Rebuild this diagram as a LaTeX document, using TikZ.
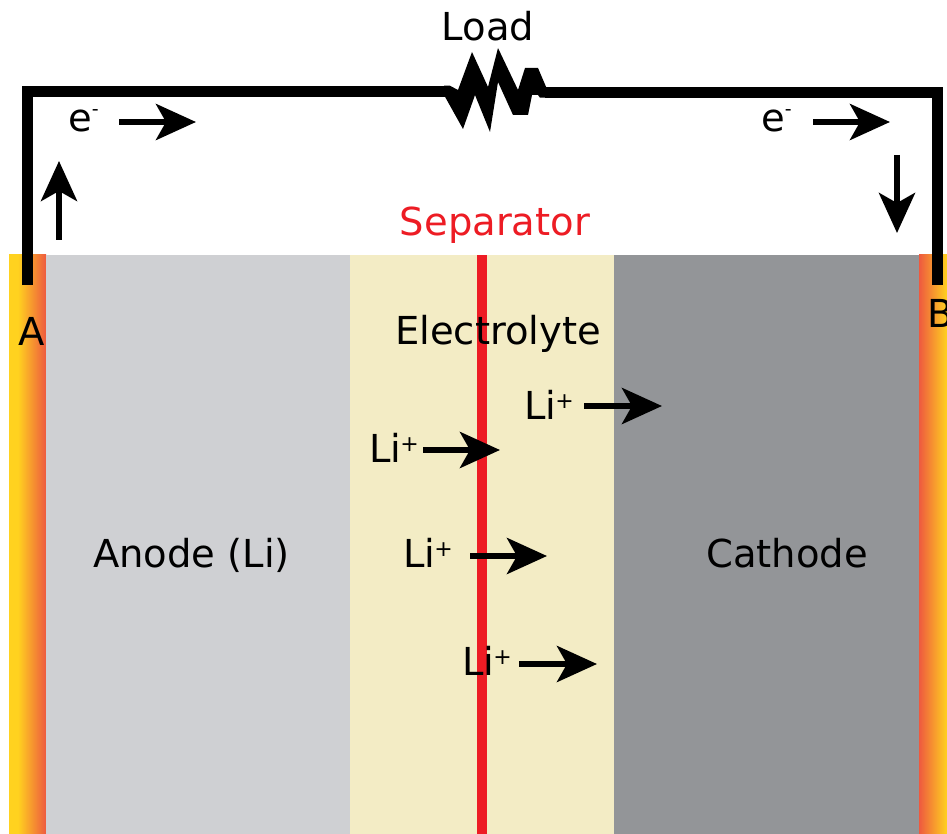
\documentclass[tikz,border=0pt]{standalone}
\usepackage{fontspec}
\setmainfont{DejaVu Sans}
\usetikzlibrary{arrows.meta}
\definecolor{anodec}{HTML}{CFD0D3}
\definecolor{electc}{HTML}{F3ECC5}
\definecolor{cathc}{HTML}{939598}
\definecolor{sepc}{HTML}{ED1C24}
\definecolor{termy}{HTML}{FFD21F}
\definecolor{termr}{HTML}{EE5A3F}
\pgfdeclarehorizontalshading{terml}{100bp}{color(0bp)=(termy); color(37bp)=(termy); color(75bp)=(termr); color(100bp)=(termr)}
\pgfdeclarehorizontalshading{termrt}{100bp}{color(0bp)=(termr); color(25bp)=(termr); color(63bp)=(termy); color(100bp)=(termy)}
\tikzset{
  lbl/.style={font=\fontsize{38.5}{41}\selectfont,text=black,inner sep=0pt,anchor=base},
  flow/.style={line width=6pt,-{Stealth[length=40pt,width=36pt,inset=10pt]},shorten >=-1pt},
  wire/.style={line width=11pt,line cap=butt,line join=miter}
}
\newcommand{\spe}[1]{\raisebox{0.42em}{\fontsize{19}{19}\selectfont #1}}
\newcommand{\spl}[1]{\kern-1pt\raisebox{0.28em}{\fontsize{22}{22}\selectfont #1}}
\begin{document}
\begin{tikzpicture}[x=1pt,y=-1pt]
\useasboundingbox (0,0) rectangle (947,834);
\clip (0,0) rectangle (947,834);
\fill[white] (0,0) rectangle (947,834);
% layers
\shade[shading=terml] (9,255) rectangle (46,834);
\fill[anodec] (46,255) rectangle (350,834);
\fill[electc] (350,255) rectangle (614,834);
\fill[cathc] (614,255) rectangle (919,834);
\shade[shading=termrt] (919,255) rectangle (956,834);
\fill[sepc] (477,255) rectangle (487,834);
% circuit
\coordinate (wa) at (27,285);
\coordinate (wb) at (937,285);
\coordinate (ca) at (27,91.25);
\coordinate (cb) at (937,92.25);
\coordinate (ra) at (445,91.25);
\coordinate (rb) at (545,92.25);
\draw[wire] (wa) -- (ca) -- (ra);
\draw[wire] (wb) -- (cb) -- (rb);
\fill[black] (444,85.75) -- (450,85.75) -- (458,90) -- (472,52) -- (488,87) -- (498,48) -- (518,90) -- (525,68) -- (538,68) -- (546,86.75) -- (546,97.75) -- (540,97.75) -- (538,95) -- (532,95) -- (528,115) -- (513,115) -- (498,82) -- (490,132) -- (475,95) -- (463,129) -- (445,96.75) -- (444,96.75) -- cycle;
% arrows
\foreach \n/\ax/\ay/\bx/\by in {e1/119/122/195/122,e2/59/240/59/162,e3/813/122/889/122,e4/897/155/897/232,l1/584/406/661/406,l2/423/450/499/450,l3/470/556/546/556,l4/519/664/596/664}{
  \coordinate (\n s) at (\ax,\ay);
  \coordinate (\n t) at (\bx,\by);
  \draw[flow] (\n s) -- (\n t);
}
% labels
\node[lbl] (load) at (488,41) {Load};
\node[lbl,text=sepc] (sep) at (495,236) {Separator};
\node[lbl] (elec) at (498,344) {Electrolyte};
\node[lbl] (anode) at (191.5,567) {Anode (Li)};
\node[lbl] (cath) at (787,567) {Cathode};
\node[lbl] (ta) at (32,345) {A};
\node[lbl,anchor=base west] (tb) at (927,327) {B};
\node[lbl,anchor=base west] (em1) at (68,132) {e\spe{-}};
\node[lbl,anchor=base west] (em2) at (761,132) {e\spe{-}};
\node[lbl,anchor=base west] (li1) at (524,419) {Li\spl{+}};
\node[lbl,anchor=base west] (li2) at (369,462) {Li\spl{+}};
\node[lbl,anchor=base west] (li3) at (403,567) {Li\spl{+}};
\node[lbl,anchor=base west] (li4) at (462,675) {Li\spl{+}};
\end{tikzpicture}
\end{document}
